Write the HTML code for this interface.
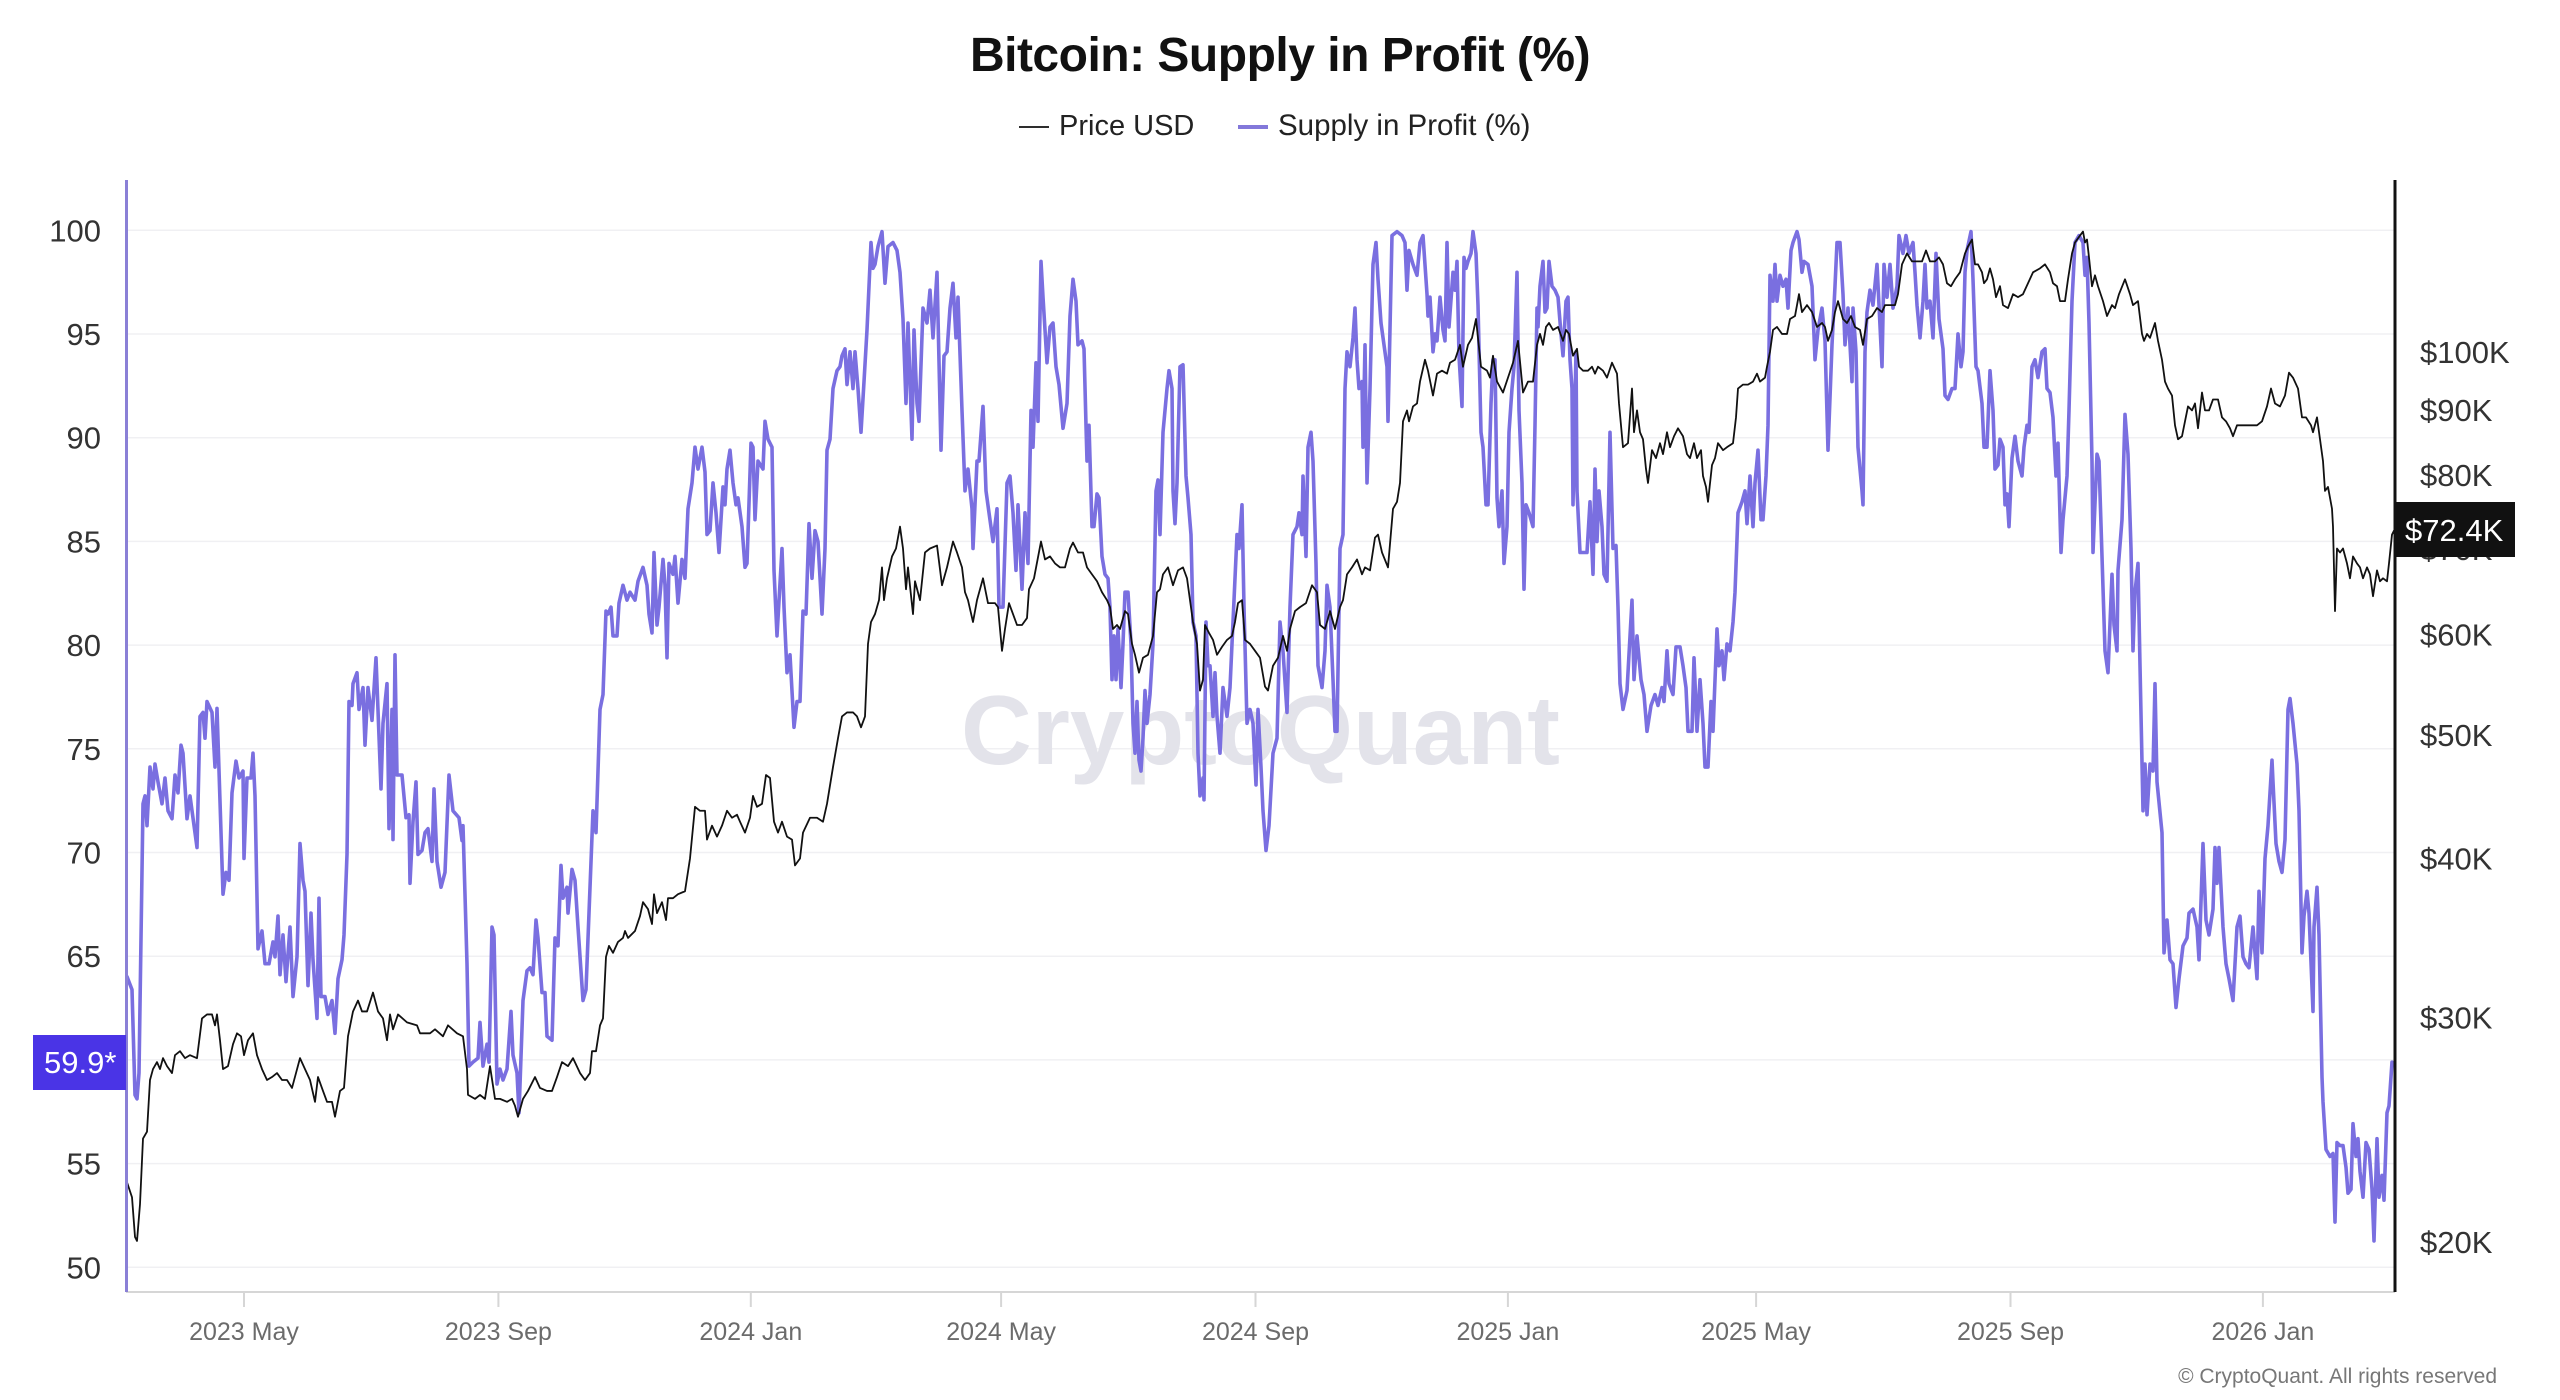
<!DOCTYPE html>
<html>
<head>
<meta charset="utf-8">
<style>
  html,body{margin:0;padding:0;background:#ffffff;}
  svg{display:block;}
  text{font-family:"Liberation Sans", Arial, sans-serif;}
</style>
</head>
<body>
<svg width="2560" height="1400" viewBox="0 0 2560 1400" xmlns="http://www.w3.org/2000/svg">
  <rect x="0" y="0" width="2560" height="1400" fill="#ffffff"/>

  <!-- Title -->
  <text x="1280" y="71" text-anchor="middle" font-size="48" font-weight="bold" fill="#111" letter-spacing="-0.5">Bitcoin: Supply in Profit (%)</text>

  <!-- Legend -->
  <line x1="1019" y1="127" x2="1049" y2="127" stroke="#111" stroke-width="1.8"/>
  <text x="1059" y="135" font-size="29" fill="#222">Price USD</text>
  <line x1="1238" y1="127" x2="1268" y2="127" stroke="#8378da" stroke-width="4"/>
  <text x="1278" y="135" font-size="29.5" fill="#222">Supply in Profit (%)</text>

  <!-- Gridlines -->
  <g stroke="#f0f0f3" stroke-width="1.5">
    <line x1="126" y1="230.3" x2="2395" y2="230.3"/>
    <line x1="126" y1="334.0" x2="2395" y2="334.0"/>
    <line x1="126" y1="437.7" x2="2395" y2="437.7"/>
    <line x1="126" y1="541.4" x2="2395" y2="541.4"/>
    <line x1="126" y1="645.1" x2="2395" y2="645.1"/>
    <line x1="126" y1="748.8" x2="2395" y2="748.8"/>
    <line x1="126" y1="852.5" x2="2395" y2="852.5"/>
    <line x1="126" y1="956.2" x2="2395" y2="956.2"/>
    <line x1="126" y1="1059.9" x2="2395" y2="1059.9"/>
    <line x1="126" y1="1163.6" x2="2395" y2="1163.6"/>
    <line x1="126" y1="1267.3" x2="2395" y2="1267.3"/>
  </g>

  <!-- Watermark -->
  <text x="961" y="764" font-size="98" font-weight="bold" fill="#e3e3ea">CryptoQuant</text>

  <!-- Left axis labels -->
  <g font-size="31" fill="#333" text-anchor="end">
    <text x="101" y="241.3">100</text>
    <text x="101" y="345.0">95</text>
    <text x="101" y="448.7">90</text>
    <text x="101" y="552.4">85</text>
    <text x="101" y="656.1">80</text>
    <text x="101" y="759.8">75</text>
    <text x="101" y="863.5">70</text>
    <text x="101" y="967.2">65</text>
    <text x="101" y="1174.6">55</text>
    <text x="101" y="1278.3">50</text>
  </g>

  <!-- Right axis labels -->
  <g font-size="31" fill="#333">
    <text x="2420" y="362.8">$100K</text>
    <text x="2420" y="421.1">$90K</text>
    <text x="2420" y="486.2">$80K</text>
    <text x="2420" y="560.1">$70K</text>
    <text x="2420" y="645.3">$60K</text>
    <text x="2420" y="746.1">$50K</text>
    <text x="2420" y="869.5">$40K</text>
    <text x="2420" y="1028.6">$30K</text>
    <text x="2420" y="1252.9">$20K</text>
  </g>

  <!-- X axis -->
  <line x1="126" y1="1292" x2="2395" y2="1292" stroke="#d6d6d6" stroke-width="2"/>
  <g stroke="#d6d6d6" stroke-width="2">
    <line x1="244" y1="1292" x2="244" y2="1307"/>
    <line x1="498.4" y1="1292" x2="498.4" y2="1307"/>
    <line x1="750.8" y1="1292" x2="750.8" y2="1307"/>
    <line x1="1001.1" y1="1292" x2="1001.1" y2="1307"/>
    <line x1="1255.5" y1="1292" x2="1255.5" y2="1307"/>
    <line x1="1507.9" y1="1292" x2="1507.9" y2="1307"/>
    <line x1="1756.1" y1="1292" x2="1756.1" y2="1307"/>
    <line x1="2010.5" y1="1292" x2="2010.5" y2="1307"/>
    <line x1="2262.9" y1="1292" x2="2262.9" y2="1307"/>
  </g>
  <g font-size="25" fill="#6b6b6b" text-anchor="middle">
    <text x="244" y="1340">2023 May</text>
    <text x="498.4" y="1340">2023 Sep</text>
    <text x="750.8" y="1340">2024 Jan</text>
    <text x="1001.1" y="1340">2024 May</text>
    <text x="1255.5" y="1340">2024 Sep</text>
    <text x="1507.9" y="1340">2025 Jan</text>
    <text x="1756.1" y="1340">2025 May</text>
    <text x="2010.5" y="1340">2025 Sep</text>
    <text x="2262.9" y="1340">2026 Jan</text>
  </g>

  <!-- Series -->
  <g transform="matrix(1 0 0 0.99345 0 1.1135)" fill="none" stroke-linejoin="round" stroke-linecap="round">
    <polyline stroke="#7a6fe0" stroke-width="3.6" points="
127,982 132,995 135,1101 137,1105 139,1079 143,808 145,800 147,830 150,771 153,793 155,768 158,786 162,808 165,782 168,815 172,823 175,779 178,797 181,749 183,757 187,823 190,800 197,852 200,720 203,716 205,742 207,705 212,716 215,771 217,712 223,899 226,877 229,885 232,797 236,765 239,782 243,775 244,863 247,782 251,782 253,757 255,800 258,954 262,936 265,969 269,969 273,947 275,962 278,921 280,980 283,940 286,987 290,932 293,1002 297,962 300,848 303,885 305,896 308,991 311,918 313,965 317,1024 319,903 321,1002 325,1002 328,1020 332,1006 335,1039 338,984 342,965 344,940 347,859 349,705 352,709 353,687 357,676 359,713 363,691 365,749 368,691 372,724 376,661 381,793 383,727 387,687 389,833 392,713 393,844 395,658 397,779 402,779 406,822 409,819 410,888 413,826 416,786 418,859 422,855 425,837 428,833 432,866 434,793 437,866 441,892 445,877 449,779 453,815 459,822 462,845 463,830 467,969 469,1072 473,1068 478,1064 480,1028 483,1072 487,1050 489,1068 492,932 494,940 497,1090 500,1075 503,1086 507,1075 511,1017 513,1061 517,1079 519,1119 523,1006 527,976 530,973 533,980 536,925 538,943 542,998 545,998 547,1042 552,1046 555,943 558,951 561,870 563,903 567,892 568,918 572,874 575,885 578,932 583,1006 586,995 589,918
593,815 596,837 600,713 603,698 606,614 608,617 611,610 613,639 617,639 619,606 623,588 627,603 630,595 635,603 638,584 643,570 647,588 649,617 652,636 654,555 657,628 659,610 663,562 665,588 667,661 669,566 673,577 675,559 678,606 682,562 685,581 688,511 692,485 695,449 698,471 702,449 705,474 707,537 710,533 713,485 716,515 719,555 723,489 725,507 727,471 730,452 733,485 736,507 738,500 742,529 745,570 747,566 751,445 753,449 755,522 758,463 763,471 765,423 768,441 772,449 774,573 777,639 782,551 784,610 787,676 790,658 794,731 797,705 800,705 803,614 806,617 809,526 812,581 815,533 818,544 822,617 825,551 827,452 830,441 833,390 837,372 840,368 842,357 845,350 847,386 850,353 853,390 855,353 858,390 861,434 864,383 867,331 871,243 873,269 875,265 878,247 882,232 885,284 888,247 893,243 897,251 900,273 903,320 906,405 908,324 912,441 914,331 917,405 919,423 923,309 927,324 930,291 933,339 937,273 941,452 944,357 947,353 950,309 953,284 956,339 958,298 962,412 965,493 968,471 972,511 973,551 977,463 979,463 983,408 986,493 989,515 993,544 997,511 999,610 1003,610 1007,485 1010,478 1013,515 1016,573 1018,507 1022,592 1025,515 1028,566 1031,412 1033,449 1036,364 1038,423 1041,262 1043,298 1047,364 1050,328 1053,324 1056,368 1059,386
1063,430 1067,405 1070,317 1073,280 1076,302 1078,346 1082,342 1084,350 1086,427 1087,463 1089,427 1092,529 1094,529 1097,496 1099,500 1102,559 1105,577 1108,581 1110,610 1112,683 1114,639 1116,683 1118,632 1121,691 1123,647 1125,595 1128,595 1131,647 1133,727 1135,757 1137,705 1139,764 1141,775 1143,742 1145,694 1147,727 1150,698 1153,647 1156,493 1158,482 1160,537 1163,434 1167,390 1169,372 1172,390 1173,493 1175,526 1177,485 1180,368 1183,366 1186,478 1188,500 1191,537 1193,625 1196,639 1198,757 1200,800 1203,782 1204,804 1206,625 1208,669 1210,669 1213,720 1215,676 1217,720 1220,757 1223,691 1227,720 1230,691 1233,625 1237,537 1239,551 1242,507 1244,610 1247,727 1250,713 1253,727 1256,789 1258,713 1261,771 1263,815 1266,855 1269,830 1273,757 1277,742 1280,625 1283,654 1287,716 1290,610 1293,537 1297,529 1299,515 1302,537 1303,478 1306,559 1308,449 1311,434 1313,463 1316,566 1318,669 1322,691 1325,654 1327,588 1330,610 1333,683 1335,735 1337,735 1340,551 1343,537 1345,390 1347,353 1350,368 1353,339 1355,309 1357,361 1359,390 1362,383 1363,449 1365,346 1367,485 1370,390 1373,265 1376,243 1378,280 1381,324 1384,346 1387,368 1388,423 1392,236 1397,232 1402,236 1405,243 1407,291 1409,251 1413,265 1417,276 1420,243 1423,236 1427,295 1428,317 1430,298 1433,353 1435,335 1437,342 1440,298 1443,331 1445,342 1447,243 1449,328 1453,273 1455,291 1457,262 1459,357 1462,408 1464,258 1466,269 1468,262 1471,254 1473,232 1476,254 1478,306 1481,434 1483,449 1486,507 1488,507 1491,405 1493,361 1495,361 1497,500 1499,529 1502,493 1504,566 1507,529 1509,434 1512,390 1514,368 1517,273 1519,412 1522,485 1524,592 1526,507 1529,515
1533,529 1535,427 1537,309 1538,328 1540,287 1543,262 1545,313 1547,309 1549,262 1552,287 1555,291 1558,298 1561,335 1563,357 1566,302 1568,298 1570,361 1572,390 1573,507 1576,353 1577,493 1580,555 1583,555 1587,555 1590,504 1593,577 1595,471 1597,544 1599,493 1602,529 1604,577 1607,584 1610,434 1613,551 1616,548 1618,610 1620,687 1623,713 1627,694 1632,603 1634,683 1637,639 1641,683 1644,698 1647,735 1651,709 1655,698 1658,709 1662,691 1664,705 1667,654 1669,687 1673,698 1676,650 1680,650 1683,669 1686,691 1688,735 1692,735 1694,661 1697,735 1700,683 1703,727 1705,771 1708,771 1711,705 1713,735 1717,632 1719,669 1722,654 1724,683 1727,647 1730,654 1733,625 1735,595 1738,515 1742,504 1745,493 1747,526 1750,478 1753,529 1755,485 1758,452 1761,522 1763,522 1766,478 1768,427 1770,276 1773,302 1775,265 1777,302 1780,276 1783,287 1786,280 1788,309 1791,251 1793,243 1797,232 1799,240 1802,273 1804,262 1808,265 1812,287 1815,361 1818,331 1822,309 1825,342 1828,452 1832,346 1835,287 1837,243 1840,243 1843,295 1845,346 1848,309 1852,383 1853,309 1856,353 1858,449 1862,493 1863,507 1865,353 1867,313 1870,291 1873,306 1877,265 1879,306 1882,368 1884,265 1887,298 1890,265 1893,309 1897,287 1899,236 1903,254 1906,236 1909,254 1913,243 1915,273 1917,306 1920,339 1923,302 1925,265 1927,309 1930,302 1933,339 1936,254 1939,320 1943,350 1945,397 1948,401 1952,390 1955,390 1958,335 1961,368 1963,353 1965,273 1967,251 1971,232 1973,280 1976,368 1978,372 1982,405 1984,449 1987,449 1990,372 1993,412 1995,471 1998,467
2000,441 2003,449 2005,507 2007,496 2009,529 2012,460 2015,438 2018,463 2022,478 2024,449 2027,427 2029,434 2032,368 2035,361 2038,379 2042,353 2045,350 2047,390 2050,394 2053,419 2056,478 2058,445 2061,555 2063,522 2067,478 2069,412 2072,302 2075,243 2079,236 2083,243 2085,276 2087,258 2089,324 2092,463 2093,555 2097,456 2099,463 2102,559 2105,654 2108,676 2112,577 2114,628 2117,654 2118,573 2122,522 2125,416 2128,456 2131,551 2133,654 2135,595 2138,566 2140,669 2143,815 2145,768 2147,819 2150,768 2153,775 2155,687 2157,786 2162,837 2164,958 2167,925 2170,965 2173,969 2176,1013 2179,984 2183,951 2187,943 2189,918 2193,914 2197,932 2199,965 2203,848 2206,925 2209,940 2213,914 2215,852 2217,888 2219,852 2223,932 2226,969 2229,984 2233,1006 2237,932 2240,921 2243,962 2246,969 2249,973 2253,932 2257,984 2259,896 2262,958 2265,863 2268,830 2272,764 2273,786 2276,848 2279,866 2282,877 2285,844 2288,713 2290,702 2293,727 2297,768 2299,815 2302,958 2304,921 2307,896 2309,918 2313,1017 2314,932 2317,892 2319,940 2322,1083 2323,1108 2326,1156 2330,1163 2333,1160 2335,1229 2337,1149 2340,1152 2343,1152 2346,1174 2348,1200 2351,1196 2353,1130 2356,1163 2358,1145 2360,1178 2363,1204 2366,1149 2369,1156 2372,1196 2374,1248 2377,1145 2379,1204 2382,1182 2384,1207 2387,1119 2389,1112 2392,1068"/>

    <polyline stroke="#111111" stroke-width="1.8" points="
127,1189 132,1204 135,1244 137,1248 140,1211 143,1145 147,1138 150,1086 153,1075 157,1068 160,1075 163,1064 167,1072 172,1079 175,1061 180,1057 185,1064 190,1061 197,1064 202,1024 207,1020 212,1020 215,1031 217,1020 220,1046 223,1075 228,1072 233,1050 237,1039 241,1042 244,1061 248,1046 253,1039 257,1061 262,1075 267,1086 272,1083 277,1079 282,1086 287,1086 292,1094 296,1079 300,1064 305,1075 310,1086 315,1108 318,1083 323,1097 327,1108 332,1108 335,1123 340,1097 344,1094 348,1042 353,1017 358,1006 362,1017 367,1017 373,998 378,1017 383,1024 387,1046 390,1020 393,1035 398,1020 407,1028 417,1031 420,1039 430,1039 435,1035 443,1042 448,1031 457,1039 463,1042 467,1075 468,1101 475,1105 480,1101 485,1105 490,1072 495,1105 500,1105 507,1108 512,1105 515,1112 518,1123 523,1105 528,1097 535,1083 540,1094 547,1097 552,1097 557,1083 562,1068 568,1072 573,1064 580,1079 585,1086
590,1079 592,1057 596,1057 600,1031 603,1024 606,962 609,951 613,958 618,947 623,943 625,936 628,943 635,936 640,921 643,907 648,914 652,929 654,899 657,918 662,907 666,925 668,903 673,903 678,899 685,896 690,863 695,811 700,815 705,815 707,844 712,830 717,841 722,830 727,815 732,822 737,819 740,826 745,837 750,822 753,800 757,811 762,808 766,779 770,782 774,826 778,837 782,826 787,841 792,844 795,870 800,863 803,837 810,822 817,822 823,826 827,808 833,771 838,742 842,720 847,716 853,716 857,720 861,731 865,720 868,647 871,625 875,617 879,603 882,570 884,603 887,581 892,559 896,551 900,529 903,551 906,592 908,570 913,617 915,584 920,603 925,555 930,551 937,548 942,588 947,570 953,544 957,555 962,570 965,595 968,603 973,625 977,603 983,581 988,606 995,606 998,610 1002,654 1005,632 1009,606 1013,617 1017,628 1022,628 1027,621 1029,592 1034,581 1041,544 1045,562 1050,559 1055,566
1060,570 1065,570 1070,551 1073,545 1078,555 1083,555 1087,570 1092,577 1097,584 1102,595 1107,603 1110,610 1113,632 1117,628 1120,632 1125,614 1128,617 1132,647 1135,658 1139,676 1143,661 1148,658 1153,639 1157,595 1160,592 1163,577 1168,570 1173,588 1178,573 1183,570 1187,581 1190,603 1193,625 1197,647 1200,694 1203,683 1205,628 1209,636 1213,643 1217,658 1222,650 1227,643 1232,639 1235,625 1238,606 1242,603 1245,643 1250,647 1255,654 1260,661 1265,690 1268,694 1273,669 1278,661 1283,639 1287,654 1290,632 1295,614 1300,610 1306,606 1312,588 1317,595 1320,628 1325,632 1330,614 1335,632 1340,610 1343,603 1347,577 1352,570 1357,562 1362,577 1365,570 1370,573 1375,540 1378,537 1382,555 1388,570 1393,511 1397,504 1400,485 1403,423 1407,412 1409,423 1413,408 1417,405 1420,383 1425,361 1428,372 1433,397 1437,375 1442,372 1447,375 1450,364 1455,361 1460,346 1463,368 1468,346 1472,339 1476,320 1481,368 1487,372 1490,379 1493,357 1497,383 1503,394 1508,379 1513,364 1518,342 1523,394 1528,383
1533,383 1537,346 1540,335 1543,346 1546,328 1549,324 1553,331 1558,328 1563,342 1566,331 1569,335 1573,357 1577,350 1579,368 1583,372 1588,372 1592,368 1595,375 1598,368 1603,372 1607,379 1612,364 1617,375 1619,405 1623,449 1628,445 1632,390 1634,434 1637,412 1640,434 1643,441 1646,471 1648,485 1652,452 1656,460 1660,445 1663,456 1667,434 1670,449 1674,438 1678,430 1683,438 1687,456 1690,460 1694,445 1697,460 1701,452 1703,478 1706,489 1708,504 1712,467 1715,460 1718,445 1723,452 1727,449 1733,445 1736,419 1738,390 1743,386 1748,386 1753,383 1757,375 1760,383 1765,379 1767,368 1770,353 1773,331 1777,328 1782,335 1787,335 1790,320 1795,317 1799,295 1802,313 1807,306 1812,313 1817,328 1822,324 1825,328 1828,342 1832,331 1835,313 1838,302 1843,320 1847,324 1851,317 1855,328 1860,331 1863,346 1867,320 1872,317 1877,309 1882,313 1885,306 1890,306 1895,306 1898,295 1902,265 1907,254 1912,262 1917,262 1922,262 1926,251 1930,262 1935,262 1939,258 1943,265 1947,284 1951,287 1955,280 1960,273 1965,254 1968,247 1972,240 1975,265 1978,265 1982,273 1984,284 1987,280 1990,269 1993,280 1996,298
2000,287 2003,306 2008,309 2013,295 2018,298 2023,295 2028,284 2033,273 2040,269 2045,265 2050,273 2053,284 2057,287 2060,302 2065,302 2068,280 2072,254 2075,243 2080,236 2083,232 2085,243 2087,240 2089,258 2092,287 2095,276 2098,287 2103,302 2107,317 2112,306 2115,309 2119,295 2125,280 2130,295 2133,306 2138,302 2142,335 2144,342 2147,335 2150,339 2155,324 2158,342 2162,361 2165,383 2168,390 2172,397 2175,427 2178,441 2182,438 2185,423 2188,408 2192,412 2195,405 2198,430 2202,394 2205,412 2209,412 2213,401 2218,401 2222,419 2226,423 2230,430 2233,438 2237,427 2243,427 2250,427 2257,427 2262,423 2267,408 2271,390 2275,405 2280,408 2285,397 2289,374 2293,379 2298,390 2302,419 2306,419 2311,427 2313,434 2317,419 2320,441 2323,463 2325,493 2328,489 2332,511 2333,529 2335,614 2337,551 2340,555 2343,551 2347,566 2350,581 2353,559 2357,566 2360,570 2363,581 2367,570 2370,577 2373,599 2377,573 2380,584 2383,581 2387,584 2389,566 2392,537 2394,533"/>
  </g>

  <!-- Axis lines -->
  <line x1="126.5" y1="180" x2="126.5" y2="1292" stroke="#8a80d6" stroke-width="3"/>
  <line x1="2395" y1="180" x2="2395" y2="1292" stroke="#111" stroke-width="3"/>

  <!-- Current value boxes -->
  <rect x="33" y="1035" width="93" height="55" fill="#4a34e6"/>
  <text x="44" y="1073" font-size="31" fill="#ffffff">59.9*</text>

  <rect x="2395" y="502" width="120" height="55" fill="#111111"/>
  <text x="2405" y="541" font-size="31" fill="#ffffff">$72.4K</text>

  <!-- Copyright -->
  <text x="2497" y="1383" text-anchor="end" font-size="21" fill="#777">© CryptoQuant. All rights reserved</text>
</svg>
</body>
</html>
